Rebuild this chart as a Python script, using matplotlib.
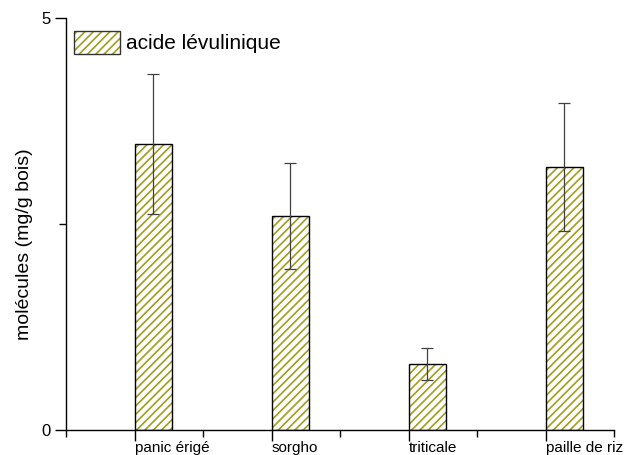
import matplotlib
matplotlib.use("Agg")
import matplotlib.pyplot as plt
from matplotlib.ticker import MultipleLocator
from matplotlib.patches import Patch

plt.rcParams["font.family"] = ["Liberation Sans", "DejaVu Sans"]
plt.rcParams["hatch.linewidth"] = 1.2

# données
categories = ["panic érigé", "sorgho", "triticale", "paille de riz"]
valeurs = [3.47, 2.60, 0.80, 3.19]
erreurs = [0.85, 0.64, 0.19, 0.78]
serie = "acide lévulinique"

pos = [1, 2, 3, 4]
largeur = 0.27
olive = "#a29d1c"

fig = plt.figure(figsize=(6.3, 4.55), dpi=100)
ax = fig.add_axes([0.105, 0.055, 0.870, 0.905])

# remplissage hachuré (olive) puis contour noir
ax.bar(pos, valeurs, width=largeur, align="edge", color="white",
       edgecolor=olive, hatch="////", linewidth=0, zorder=2)
ax.bar(pos, valeurs, width=largeur, align="edge", fill=False,
       edgecolor="black", linewidth=1.0, zorder=3)
centres = [p + largeur / 2 for p in pos]
ax.errorbar(centres, valeurs, yerr=erreurs, fmt="none", ecolor="#404040",
            elinewidth=0.9, capsize=4, capthick=0.9, zorder=4)

# légende
h = Patch(facecolor="white", edgecolor=olive, hatch="////", linewidth=0)
h2 = Patch(fill=False, edgecolor="#333333", linewidth=1.0)
ax.legend([(h, h2)], [serie], loc="upper left", frameon=False,
          fontsize=15, handlelength=2.2, handleheight=1.35,
          handletextpad=0.25, borderaxespad=0.0, bbox_to_anchor=(0.0, 0.99))

ax.set_xlim(0.5, 4.5)
ax.set_ylim(0, 5)
ax.set_xticks(pos)
ax.set_xticklabels(categories, ha="left", fontsize=11)
ax.xaxis.set_minor_locator(MultipleLocator(1, offset=0.5))
ax.set_yticks([0, 5])
ax.yaxis.set_minor_locator(MultipleLocator(2.5))
ax.tick_params(axis="y", labelsize=12, length=8, width=1.0)
ax.tick_params(axis="x", length=8, width=1.0, pad=0)
ax.tick_params(which="minor", length=5, width=1.0)
ax.set_ylabel("molécules (mg/g bois)", fontsize=14)
ax.yaxis.set_label_coords(-0.06, 0.45)

for s in ["top", "right"]:
    ax.spines[s].set_visible(False)
for s in ["left", "bottom"]:
    ax.spines[s].set_linewidth(1.0)

fig.savefig("out.png", dpi=100)
